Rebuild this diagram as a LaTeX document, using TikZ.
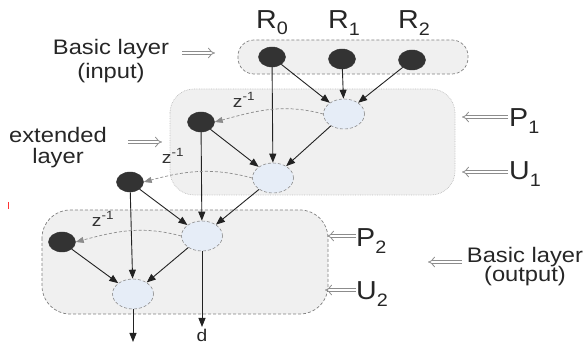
\documentclass[tikz,border=0pt]{standalone}
\usepackage{fontspec}
\usepackage{graphicx}
\setmainfont{Liberation Sans}
\usetikzlibrary{arrows.meta,shapes.geometric}
\definecolor{boxfill}{HTML}{F0F0F0}
\definecolor{ellfill}{HTML}{E6EDF7}
\definecolor{darknode}{HTML}{333333}
\definecolor{linec}{HTML}{222222}
\newcommand{\wt}[1]{\scalebox{1.13}[1]{#1}}
\newcommand{\lbl}[2]{\scalebox{1.1}[1]{#1\raisebox{-0.45ex}{\fontsize{18}{18}\selectfont #2}}}
\tikzset{
  dnode/.style={ellipse, fill=darknode, draw=darknode, minimum width=27pt, minimum height=20pt, inner sep=0pt},
  enode/.style={ellipse, fill=ellfill, draw=gray!90, densely dashed, line width=0.6pt, minimum width=41pt, minimum height=30pt, inner sep=0pt},
  arr/.style={draw=linec, line width=0.9pt, -{Triangle[length=9pt,width=7pt]}},
  zarc/.style={draw=gray!90, line width=0.7pt, densely dashed, -{Triangle[length=8pt,width=6pt]}},
  dblarr/.style={draw=gray!90, double=white, double distance=2.8pt, line width=0.8pt, -{Implies}},
  txt/.style={font=\fontsize{21}{23}\selectfont, inner sep=0pt, text=black!85},
  big/.style={font=\fontsize{26}{26}\selectfont, inner sep=0pt, text=black!85},
  zl/.style={font=\fontsize{17}{17}\selectfont, inner sep=0pt, text=black!80},
}
\begin{document}
\begin{tikzpicture}[x=1pt,y=-1pt]
\useasboundingbox (0,0) rectangle (587,344);
% layer boxes
\draw[fill=boxfill, draw=gray, densely dashed, line width=0.7pt, rounded corners=16pt] (238,40) rectangle (468,74);
\draw[fill=boxfill, draw=gray!50, densely dotted, line width=0.7pt, rounded corners=24pt] (170,89) rectangle (455,195);
\draw[fill=boxfill, draw=gray, densely dashed, line width=0.7pt, rounded corners=28pt] (42,210) rectangle (328,314);
% nodes
\node[dnode] (r0) at (272,57) {};
\node[dnode] (r1) at (342,59) {};
\node[dnode] (r2) at (412,60) {};
\node[enode] (p1) at (344,114) {};
\node[dnode] (da) at (201,122) {};
\node[enode] (u1) at (273,178) {};
\node[dnode] (db) at (130,182) {};
\node[enode] (p2) at (202,236) {};
\node[dnode] (dc) at (62,242) {};
\node[enode] (u2) at (133,294) {};
% R labels
\node[big] (lr0) at (272,23) {\lbl{R}{0}};
\node[big] (lr1) at (344,23) {\lbl{R}{1}};
\node[big] (lr2) at (414,23) {\lbl{R}{2}};
% arrows
\draw[arr] (r0) -- (u1);
\draw[arr] (r0) -- (p1);
\draw[arr] (r1) -- (p1);
\draw[arr] (r2) -- (p1);
\draw[arr] (p1) -- (u1);
\draw[arr] (da) -- (u1);
\draw[arr] (da) -- (p2);
\draw[arr] (u1) -- (p2);
\draw[arr] (db) -- (p2);
\draw[arr] (db) -- (u2);
\draw[arr] (p2) -- (u2);
\draw[arr] (dc) -- (u2);
\coordinate (out1) at (133,342);
\coordinate (out2) at (202,327);
\draw[arr] (u2) -- (out1);
\draw[arr] (p2) -- (out2);
\node[txt, anchor=south, font=\fontsize{17}{17}\selectfont] (dlab) at (202,342) {\wt{d}};
% delay arcs
\draw[zarc] (p1.west) to[out=165,in=15] (da.east);
\draw[zarc] (u1.west) to[out=165,in=15] (db.east);
\draw[zarc] (p2.west) to[out=165,in=15] (dc.east);
\node[zl] (z1) at (244,100) {\wt{z\textsuperscript{-1}}};
\node[zl] (z2) at (173,156) {\wt{z\textsuperscript{-1}}};
\node[zl] (z3) at (103,219) {\wt{z\textsuperscript{-1}}};
% side labels
\node[txt] (bi1) at (111,49) {\wt{Basic layer}};
\node[txt] (bi2) at (111,73) {\wt{(input)}};
\coordinate (bia) at (182,53);
\coordinate (bib) at (215,53);
\draw[dblarr] (bia) -- (bib);
\node[txt] (ex1) at (58,135) {\wt{extended}};
\node[txt] (ex2) at (58,158) {\wt{layer}};
\coordinate (exa) at (128,142);
\coordinate (exb) at (162,142);
\draw[dblarr] (exa) -- (exb);
\node[big, anchor=west] (lp1) at (509,121) {\lbl{P}{1}};
\node[big, anchor=west] (lu1) at (509,174) {\lbl{U}{1}};
\coordinate (p1a) at (508,117);
\coordinate (p1b) at (462,117);
\draw[dblarr] (p1a) -- (p1b);
\coordinate (u1a) at (508,172);
\coordinate (u1b) at (462,172);
\draw[dblarr] (u1a) -- (u1b);
\node[big, anchor=west] (lp2) at (356,241) {\lbl{P}{2}};
\node[big, anchor=west] (lu2) at (356,294) {\lbl{U}{2}};
\coordinate (p2a) at (356,236);
\coordinate (p2b) at (327,236);
\draw[dblarr] (p2a) -- (p2b);
\coordinate (u2a) at (356,290);
\coordinate (u2b) at (325,290);
\draw[dblarr] (u2a) -- (u2b);
\node[txt] (bo1) at (525,257) {\wt{Basic layer}};
\node[txt] (bo2) at (525,276) {\wt{(output)}};
\coordinate (boa) at (462,262);
\coordinate (bob) at (428,262);
\draw[dblarr] (boa) -- (bob);
% stray red mark
\draw[red!80, line width=1pt] (8,202) -- (8,209);
\end{tikzpicture}
\end{document}
